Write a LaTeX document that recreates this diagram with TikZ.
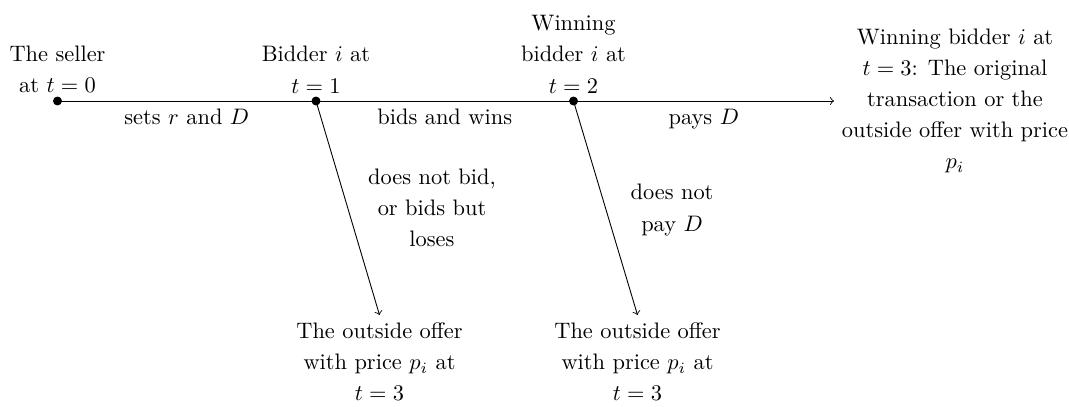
\documentclass[tikz,border=0pt]{standalone}
\begin{document}
\begin{tikzpicture}[x=0.4464pt,y=-0.4464pt,
  txt/.style={font=\fontsize{10}{13.9}\selectfont, align=center, inner sep=3.33pt},
  dot/.style={circle, fill=black, inner sep=0pt, minimum size=4pt},
  conn/.style={line width=0.4pt}]
\useasboundingbox (0,0) rectangle (1069,406);
% event points
\node[dot] (A) at (57.5,101) {};
\node[dot] (B) at (316,101) {};
\node[dot] (C) at (573.5,101) {};
% outcome nodes
\node[txt, anchor=west] (F) at (834,101) {Winning bidder $i$ at\\$t=3$: The original\\transaction or the\\outside offer with price\\$p_i$};
\node[txt, anchor=north] (O1) at (379.5,315) {The outside offer\\with price $p_i$ at\\$t=3$};
\node[txt, anchor=north] (O2) at (637.5,315) {The outside offer\\with price $p_i$ at\\$t=3$};
% labels above the points
\node[txt, anchor=south] (LA) at (A.center) {The seller\\at $t=0$};
\node[txt, anchor=south] (LB) at (B.center) {Bidder $i$ at\\$t=1$};
\node[txt, anchor=south] (LC) at (C.center) {Winning\\bidder $i$ at\\$t=2$};
% connectors
\draw[conn] (A.center) -- node[txt, below] (s1) {sets $r$ and $D$} (B.center);
\draw[conn] (B.center) -- node[txt, below] (s2) {bids and wins} (C.center);
\draw[conn,->] (C.center) -- node[txt, below] (s3) {pays $D$} (F.west);
\draw[conn,->] (B.center) -- (O1.north);
\draw[conn,->] (C.center) -- (O2.north);
% branch labels
\node[txt] (d1) at (432,208) {does not bid,\\or bids but\\loses};
\node[txt] (d2) at (672,210) {does not\\pay $D$};
\end{tikzpicture}
\end{document}
